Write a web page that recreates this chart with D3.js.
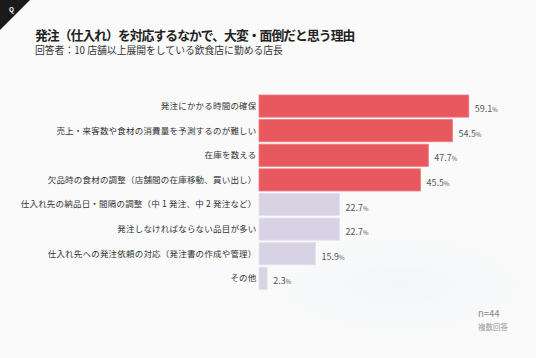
<!DOCTYPE html>
<html><head><meta charset="utf-8">
<script src="https://cdn.jsdelivr.net/npm/d3@7"></script>
<style>
html,body{margin:0;padding:0;background:#fafafa;}
svg{display:block;font-family:"Noto Sans CJK JP","Noto Sans",sans-serif;}
</style></head>
<body>
<svg id="c" width="536" height="358"></svg>
<script>
const categories = [
  "発注にかかる時間の確保",
  "売上・来客数や食材の消費量を予測するのが難しい",
  "在庫を数える",
  "欠品時の食材の調整（店舗間の在庫移動、買い出し）",
  "仕入れ先の納品日・間隔の調整（中 1 発注、中 2 発注など）",
  "発注しなければならない品目が多い",
  "仕入れ先への発注依頼の対応（発注書の作成や管理）",
  "その他"
];
const values = [59.1, 54.5, 47.7, 45.5, 22.7, 22.7, 15.9, 2.3];
const highlighted = [true, true, true, true, false, false, false, false];

const svg = d3.select("#c");
const W = 536, H = 358;

const defs = svg.append("defs");
const g1 = defs.append("radialGradient").attr("id","blob").attr("cx","0.5").attr("cy","0.5").attr("r","0.5");
g1.append("stop").attr("offset","0").attr("stop-color","#f1f6fa");
g1.append("stop").attr("offset","1").attr("stop-color","#fafafa").attr("stop-opacity",0);
svg.append("rect").attr("width",W).attr("height",H).attr("fill","#fafafa");
svg.append("ellipse").attr("cx",400).attr("cy",285).attr("rx",180).attr("ry",70).attr("fill","url(#blob)");

// Q corner
svg.append("path").attr("d","M0,0 L30,0 L0,30 Z").attr("fill","#1a1a1a");
svg.append("text").attr("x",9).attr("y",12).attr("fill","#fff").attr("font-size",6.5).attr("font-weight","bold").text("Q");

svg.append("text").attr("x",35).attr("y",39.5).attr("font-size",12.8).attr("font-weight","bold").attr("fill","#222")
  .attr("letter-spacing",-0.95)
  .text("発注（仕入れ）を対応するなかで、大変・面倒だと思う理由");
svg.append("text").attr("x",35).attr("y",54).attr("font-size",9.8).attr("fill","#333")
  .text("回答者：10 店舗以上展開をしている飲食店に勤める店長");

const x = d3.scaleLinear().domain([0, 100]).range([259, 614]);
const y = d3.scaleBand().domain(categories).range([95, 289.4]).paddingInner(0.1).paddingOuter(0);

const rows = svg.append("g").selectAll("g").data(categories).join("g");
rows.append("rect")
  .attr("x", x(0))
  .attr("y", d => y(d))
  .attr("width", (d,i) => x(values[i]) - x(0))
  .attr("height", y.bandwidth())
  .attr("fill", (d,i) => highlighted[i] ? "#e8585f" : "#d8d3e4")
  .attr("stroke", (d,i) => highlighted[i] ? "#f07a80" : "#e4e0ec")
  .attr("stroke-width", 0.8);

rows.append("text")
  .attr("x", 256.5)
  .attr("y", d => y(d) + y.bandwidth()/2)
  .attr("dy","0.35em")
  .attr("text-anchor","end")
  .attr("font-size", 8.5)
  .attr("letter-spacing", 0.2)
  .attr("fill","#333")
  .text(d => d);

const vt = rows.append("text")
  .attr("x", (d,i) => x(values[i]) + 6)
  .attr("y", d => y(d) + y.bandwidth()/2)
  .attr("dy","0.38em")
  .attr("fill","#555");
vt.append("tspan").attr("font-size", 9).text((d,i) => values[i].toFixed(1));
vt.append("tspan").attr("font-size", 6).text("%");

svg.append("text").attr("x",478).attr("y",317).attr("font-size",9.5).attr("fill","#888").text("n=44");
svg.append("text").attr("x",478).attr("y",330).attr("font-size",7.5).attr("fill","#999").text("複数回答");
</script>
</body></html>
